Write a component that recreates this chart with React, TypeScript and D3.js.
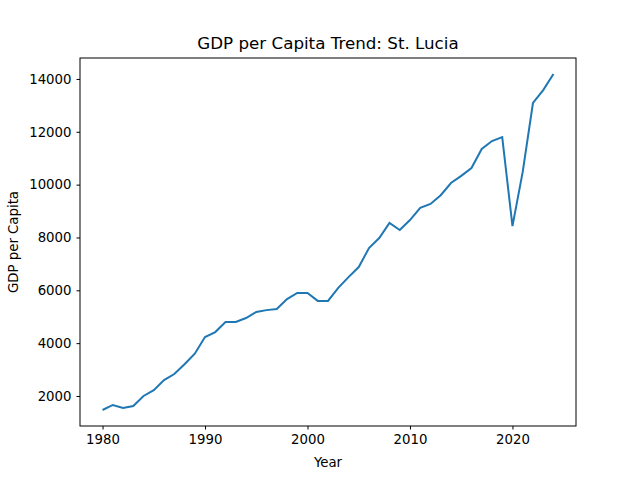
import React, { useEffect, useRef } from 'react';
import * as d3 from 'd3';

const years = d3.range(1980, 2025);
const gdp = [1470, 1660, 1550, 1620, 2000, 2220, 2600, 2830, 3200, 3600,
  4230, 4420, 4800, 4800, 4950, 5180, 5250, 5290, 5670, 5900,
  5900, 5600, 5600, 6090, 6500, 6880, 7600, 7980, 8550, 8280,
  8660, 9120, 9270, 9600, 10060, 10330, 10630, 11350, 11650, 11800,
  8430, 10480, 13090, 13580, 14190];
const xTicks = [1980, 1990, 2000, 2010, 2020];
const yTicks = [2000, 4000, 6000, 8000, 10000, 12000, 14000];

export default function App() {
  const ref = useRef<SVGSVGElement | null>(null);
  useEffect(() => {
    const width = 640, height = 480;
    const m = { top: 58, right: 64, bottom: 54, left: 80 };
    const svg = d3.select(ref.current).attr('width', width).attr('height', height);
    svg.selectAll('*').remove();
    svg.append('rect').attr('width', width).attr('height', height).attr('fill', '#fff');

    const x = d3.scaleLinear().domain([1977.8, 2026.2]).range([m.left, width - m.right]);
    const y = d3.scaleLinear().domain([864, 14793]).range([height - m.bottom, m.top]);

    const font = 'DejaVu Sans, sans-serif';
    const xa = svg.append('g').attr('transform', `translate(0,${height - m.bottom})`)
      .call(d3.axisBottom(x).tickValues(xTicks).tickFormat(d3.format('d')).tickSize(3.5).tickPadding(5));
    const ya = svg.append('g').attr('transform', `translate(${m.left},0)`)
      .call(d3.axisLeft(y).tickValues(yTicks).tickFormat(d3.format('d')).tickSize(3.5).tickPadding(5));
    [xa, ya].forEach(a => {
      a.select('.domain').remove();
      a.selectAll('text').attr('font-family', font).attr('font-size', 13.3).attr('fill', '#000');
      a.selectAll('line').attr('stroke', '#000');
    });
    svg.append('rect').attr('x', m.left).attr('y', m.top)
      .attr('width', width - m.left - m.right).attr('height', height - m.top - m.bottom)
      .attr('fill', 'none').attr('stroke', '#000').attr('stroke-width', 1);

    const line = d3.line<number>().x((_, i) => x(years[i])).y(d => y(d));
    svg.append('path').datum(gdp).attr('d', line).attr('fill', 'none')
      .attr('stroke', '#1f77b4').attr('stroke-width', 2);

    svg.append('text').attr('x', (m.left + width - m.right) / 2).attr('y', 49)
      .attr('text-anchor', 'middle').attr('font-family', font).attr('font-size', 16.7)
      .text('GDP per Capita Trend: St. Lucia');
    svg.append('text').attr('x', (m.left + width - m.right) / 2).attr('y', 467)
      .attr('text-anchor', 'middle').attr('font-family', font).attr('font-size', 13.3).text('Year');
    svg.append('text').attr('transform', `translate(18,${(m.top + height - m.bottom) / 2}) rotate(-90)`)
      .attr('text-anchor', 'middle').attr('font-family', font).attr('font-size', 13.3).text('GDP per Capita');
  }, []);
  return <svg ref={ref} style={{ position: 'absolute', left: 0, top: 0 }}></svg>;
}
